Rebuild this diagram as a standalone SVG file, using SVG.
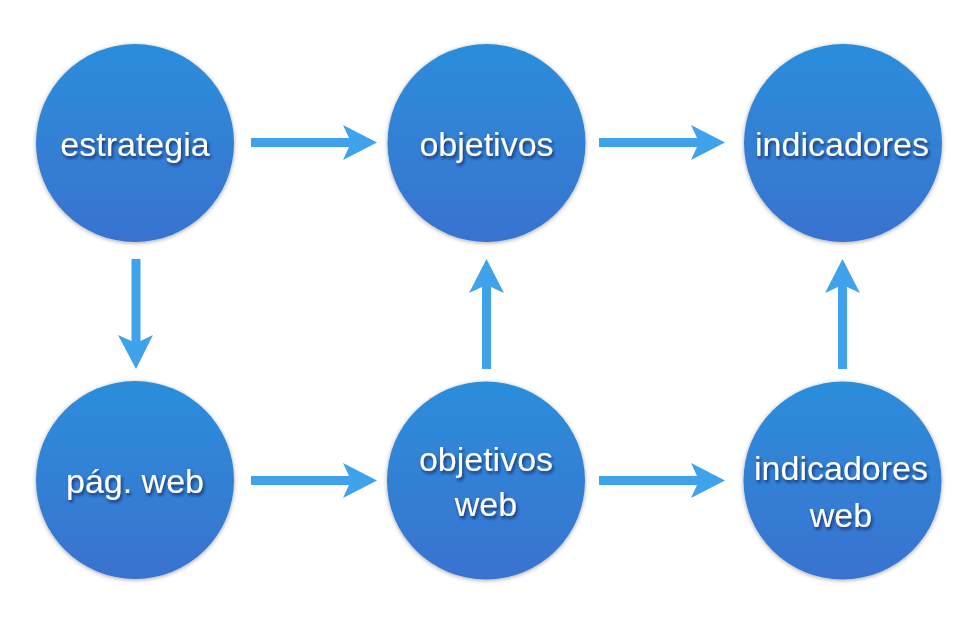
<svg xmlns="http://www.w3.org/2000/svg" width="977" height="643" viewBox="0 0 977 643">
  <defs>
    <linearGradient id="g" x1="0" y1="0" x2="0" y2="1">
      <stop offset="0" stop-color="#2b8edb"/>
      <stop offset="1" stop-color="#3a72cf"/>
    </linearGradient>
    <filter id="cs" x="-20%" y="-20%" width="140%" height="140%">
      <feDropShadow dx="0" dy="1" stdDeviation="2.2" flood-color="#000" flood-opacity="0.35"/>
    </filter>
    <filter id="ts" x="-10%" y="-30%" width="120%" height="160%">
      <feDropShadow dx="1.5" dy="2.5" stdDeviation="1.5" flood-color="#0a1e50" flood-opacity="0.75"/>
    </filter>
  </defs>
  <style>
    .c { fill: url(#g); filter: url(#cs); }
    .t { fill: #fff; font-family: "Liberation Sans", Arial, sans-serif; font-size: 34px; text-anchor: middle; filter: url(#ts); }
    .a { fill: #3fa2ea; }
  </style>
  <rect width="977" height="643" fill="#fff"/>

  <g id="connectors">
    <polygon class="a" points="251,138 349,138 343,125 377,142.5 343,160 349,147 251,147"/>
    <polygon class="a" points="599,138 697,138 691,125 725,142.5 691,160 697,147 599,147"/>
    <polygon class="a" points="251,476 349,476 343,463 377,480.5 343,498 349,485 251,485"/>
    <polygon class="a" points="599,476 697,476 691,463 725,480.5 691,498 697,485 599,485"/>
    <polygon class="a" points="131.5,259 140.5,259 140.5,341 153,335 136,369 118,335 131.5,341"/>
    <polygon class="a" points="482,369 491,369 491,287 504,293 486.5,259 469,293 482,287"/>
    <polygon class="a" points="838,369 847,369 847,287 860,293 842.5,259 825,293 838,287"/>
  </g>

  <g id="estrategia">
    <circle class="c" cx="135" cy="143" r="99"/>
    <text class="t" x="135" y="156">estrategia</text>
  </g>
  <g id="objetivos">
    <circle class="c" cx="486.5" cy="143" r="99"/>
    <text class="t" x="486.5" y="156">objetivos</text>
  </g>
  <g id="indicadores">
    <circle class="c" cx="843" cy="143" r="99"/>
    <text class="t" x="842" y="156">indicadores</text>
  </g>
  <g id="pag-web">
    <circle class="c" cx="135" cy="480" r="99"/>
    <text class="t" x="135" y="493">pág. web</text>
  </g>
  <g id="objetivos-web">
    <circle class="c" cx="486" cy="480.5" r="99"/>
    <text class="t" x="486" y="471">objetivos</text>
    <text class="t" x="486" y="516">web</text>
  </g>
  <g id="indicadores-web">
    <circle class="c" cx="842.5" cy="480.5" r="99"/>
    <text class="t" x="841" y="480">indicadores</text>
    <text class="t" x="841" y="527">web</text>
  </g>
</svg>
